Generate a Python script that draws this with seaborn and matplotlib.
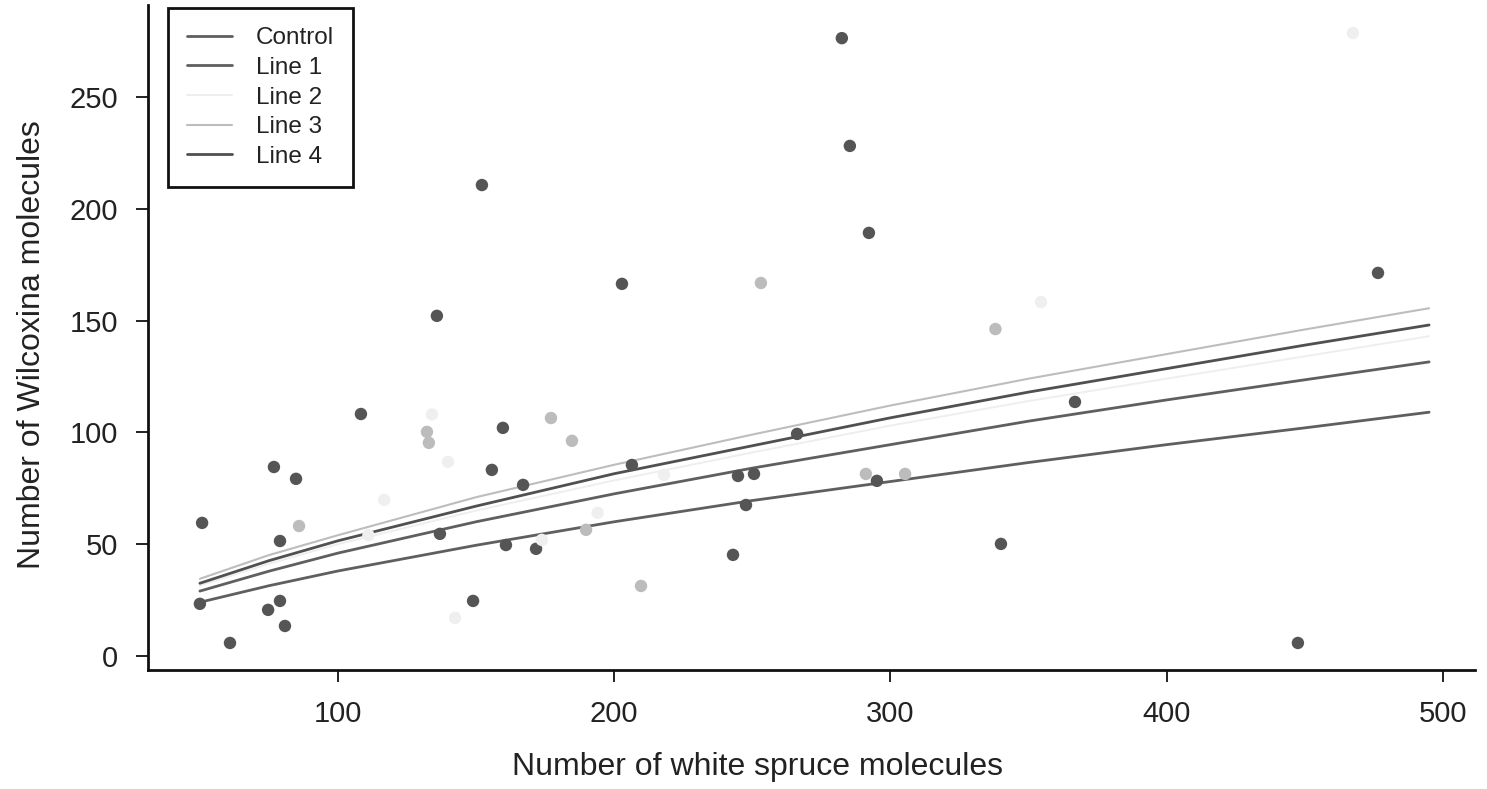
import pandas as pd
import seaborn as sns
import matplotlib.pyplot as plt

# -------------------------------
# Data
# -------------------------------
groups = ["Control", "Line 1", "Line 2", "Line 3", "Line 4"]

control_x = [50.0, 60.9, 76.8, 79.0, 108.3, 136.9, 152.1, 160.8, 202.8, 243.0, 266.2, 292.2, 340.0, 447.5]
control_y = [23.3, 5.8, 84.5, 24.6, 108.2, 54.6, 210.6, 49.6, 166.4, 45.2, 99.3, 189.2, 50.1, 5.8]

line1_x = [50.8, 74.7, 84.8, 135.8, 155.7, 171.7, 244.8, 282.4, 295.1, 476.5]
line1_y = [59.5, 20.6, 79.2, 152.1, 83.2, 47.9, 80.5, 276.3, 78.3, 171.3]

line2_x = [111.0, 116.7, 134.0, 139.8, 142.4, 173.8, 194.0, 218.0, 354.5, 467.4]
line2_y = [54.0, 69.8, 108.0, 86.8, 17.0, 51.9, 64.0, 81.0, 158.3, 278.6]

line3_x = [85.9, 132.2, 132.9, 177.1, 184.7, 189.8, 209.7, 253.1, 291.1, 305.3, 338.0]
line3_y = [58.1, 100.2, 95.3, 106.4, 96.2, 56.4, 31.3, 166.8, 81.4, 81.4, 146.2]

line4_x = [79.0, 80.8, 148.9, 159.7, 167.0, 206.4, 247.7, 250.6, 285.3, 366.8]
line4_y = [51.4, 13.4, 24.6, 102.0, 76.5, 85.4, 67.5, 81.4, 228.1, 113.6]

# fitted curves
curve_x = [50, 75, 100, 150, 200, 250, 300, 350, 400, 450, 495]
curve_control = [24.0, 31.4, 38.0, 49.5, 60.0, 69.5, 78.0, 86.5, 94.5, 102.0, 109.0]
curve_line1 = [29.0, 37.9, 46.0, 60.0, 72.5, 84.0, 94.5, 105.0, 114.5, 123.5, 131.5]
curve_line2 = [31.5, 41.2, 50.0, 65.0, 78.5, 91.0, 103.0, 114.0, 124.0, 134.0, 143.0]
curve_line3 = [34.5, 45.1, 54.0, 71.0, 85.5, 99.0, 112.0, 124.0, 135.0, 146.0, 155.5]
curve_line4 = [32.5, 42.6, 51.5, 67.0, 81.5, 94.0, 106.5, 118.0, 128.5, 139.0, 148.0]

pts = pd.DataFrame({
    "spruce": control_x + line1_x + line2_x + line3_x + line4_x,
    "wilcoxina": control_y + line1_y + line2_y + line3_y + line4_y,
    "group": (["Control"] * len(control_x) + ["Line 1"] * len(line1_x)
              + ["Line 2"] * len(line2_x) + ["Line 3"] * len(line3_x)
              + ["Line 4"] * len(line4_x)),
})

curves = {
    "Control": curve_control,
    "Line 1": curve_line1,
    "Line 2": curve_line2,
    "Line 3": curve_line3,
    "Line 4": curve_line4,
}

point_colors = {"Control": "#555555", "Line 1": "#555555", "Line 2": "#efefef",
                "Line 3": "#bcbcbc", "Line 4": "#555555"}
line_colors = {"Control": "#5f5f5f", "Line 1": "#5f5f5f", "Line 2": "#eeeeee",
               "Line 3": "#bdbdbd", "Line 4": "#505050"}
line_widths = {"Control": 2.0, "Line 1": 2.0, "Line 2": 1.4, "Line 3": 1.5, "Line 4": 2.0}

# -------------------------------
# Style
# -------------------------------
sns.set_style("ticks")
plt.rcParams["font.family"] = ["Liberation Sans", "DejaVu Sans"]

fig = plt.figure(figsize=(14.87, 7.89), dpi=100)
ax = fig.add_axes([0.0995, 0.1508, 0.8924, 0.8428])

# -------------------------------
# Curves + points
# -------------------------------
for g in groups:
    sns.lineplot(x=curve_x, y=curves[g], color=line_colors[g],
                 linewidth=line_widths[g], label=g, ax=ax, zorder=2)

sns.scatterplot(data=pts, x="spruce", y="wilcoxina", hue="group",
                palette=point_colors, s=80, linewidth=0, legend=False,
                ax=ax, zorder=3)

# -------------------------------
# Axes
# -------------------------------
ax.set_xlim(31.2, 511.6)
ax.set_ylim(-6.3, 291.1)
ax.set_xticks([100, 200, 300, 400, 500])
ax.set_yticks([0, 50, 100, 150, 200, 250])
sns.despine(ax=ax)
for side in ["left", "bottom"]:
    ax.spines[side].set_linewidth(2.0)
    ax.spines[side].set_color("#111111")
ax.tick_params(axis="both", length=8.5, width=1.4, color="#222222",
               labelsize=21, labelcolor="#222222", pad=13)

ax.set_xlabel("Number of white spruce molecules", fontsize=23, color="#222222")
ax.set_ylabel("Number of Wilcoxina molecules", fontsize=23, color="#222222")
ax.xaxis.set_label_coords(0.459, -0.123)
ax.yaxis.set_label_coords(-0.076, 0.489)

leg = ax.legend(loc="upper left", bbox_to_anchor=(168 / 1487, 1 - 8 / 789),
                bbox_transform=fig.transFigure, borderaxespad=0,
                fontsize=17.5, frameon=True, fancybox=False, framealpha=1,
                edgecolor="#111111", handlelength=1.85, handletextpad=0.95,
                labelspacing=0.31, borderpad=0.8)
leg.get_frame().set_linewidth(2.0)
for t in leg.get_texts():
    t.set_color("#222222")

fig.savefig("out.png", dpi=100)
